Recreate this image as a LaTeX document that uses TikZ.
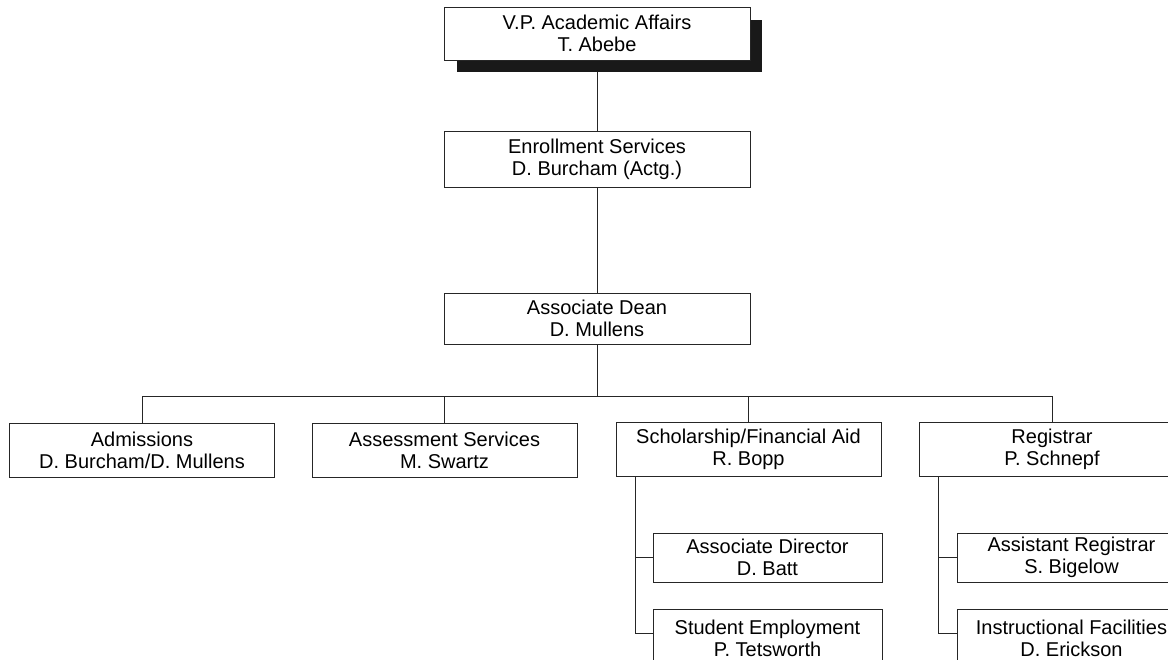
\documentclass[tikz,border=0pt]{standalone}
\usepackage{fontspec}
\setmainfont{Liberation Sans}
\begin{document}
\begin{tikzpicture}[x=1pt,y=1pt,
  every node/.style={font=\fontsize{20}{22}\selectfont},
  orgbox/.style={draw=black!85,line width=0.8pt,fill=white,align=center,inner sep=0pt},
  topbox/.style={orgbox,minimum width=306pt},
  midbox/.style={orgbox,minimum width=265pt,minimum height=54pt},
  subbox/.style={orgbox,minimum width=229pt},
  link/.style={draw=black!85,line width=0.8pt}]
\useasboundingbox (0,0) rectangle (1168,-660);
\clip (0,0) rectangle (1168,-660);
% shadow of the top box
\fill[black!90] (457,-20) rectangle (762,-72);
\node[topbox,minimum height=53pt] (vp) at (597,-33.5) {V.P. Academic Affairs\\T. Abebe};
\node[topbox,minimum height=56pt] (enr) at (597,-159) {Enrollment Services\\D. Burcham (Actg.)};
\node[topbox,minimum height=51pt] (dean) at (597,-318.5) {Associate Dean\\D. Mullens};
\node[midbox] (adm) at (142,-450) {Admissions\\D. Burcham/D. Mullens};
\node[midbox] (ass) at (444.5,-450) {Assessment Services\\M. Swartz};
\node[midbox] (sch) at (748.5,-449) {Scholarship/Financial Aid\\R. Bopp};
\node[midbox] (reg) at (1052,-449) {Registrar\\P. Schnepf};
\node[subbox,minimum height=49pt] (ad) at (767.5,-557.5) {Associate Director\\D. Batt};
\node[subbox,minimum height=58pt] (se) at (767.5,-638) {Student Employment\\P. Tetsworth};
\node[subbox,minimum height=49pt] (ar) at (1071.5,-557.5) {Assistant Registrar\\S. Bigelow};
\node[subbox,minimum height=58pt] (if) at (1071.5,-638) {Instructional Facilities\\D. Erickson};
\coordinate (bus) at (597,-396);
\coordinate (schx) at (635,-476);
\coordinate (regx) at (938,-476);
\draw[link] (vp.south |- 0,-72) -- (enr.north);
\draw[link] (enr.south) -- (dean.north);
\draw[link] (dean.south) -- (bus);
\draw[link] (adm.north |- bus) -- (reg.north |- bus);
\draw[link] (adm.north) -- (adm.north |- bus);
\draw[link] (ass.north) -- (ass.north |- bus);
\draw[link] (sch.north) -- (sch.north |- bus);
\draw[link] (reg.north) -- (reg.north |- bus);
\draw[link] (schx) |- (ad.west);
\draw[link] (schx) |- ([yshift=-25pt]se.north west);
\draw[link] (regx) |- (ar.west);
\draw[link] (regx) |- ([yshift=-25pt]if.north west);
\end{tikzpicture}
\end{document}
